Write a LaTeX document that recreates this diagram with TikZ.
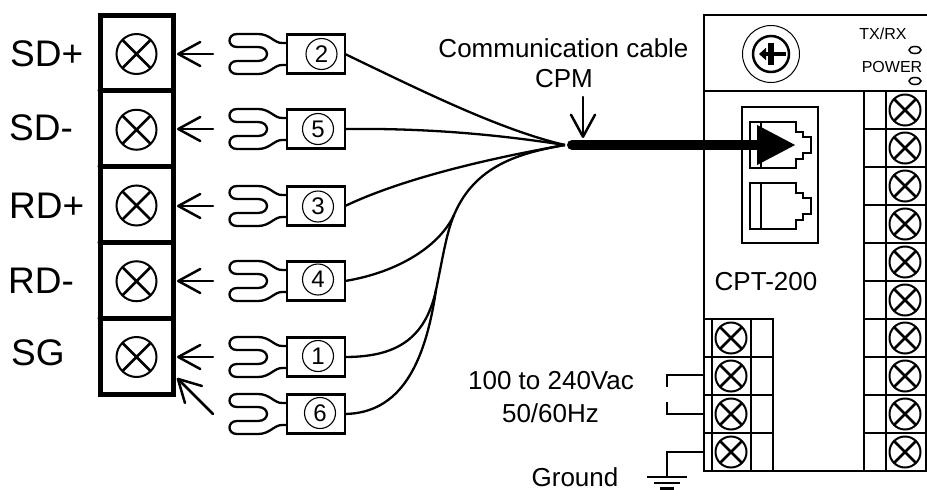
\documentclass[tikz,border=0pt]{standalone}
\usepackage{fontspec}
\setmainfont{Liberation Sans}
\usetikzlibrary{arrows.meta,shapes.geometric}
\tikzset{
  wire/.style={line width=2.3pt},
  thickframe/.style={line width=5pt,line cap=round},
  devline/.style={line width=2.5pt},
  pointer/.style={line width=2.5pt,line cap=round,-{Straight Barb[length=22pt,width=24pt,line width=2.5pt,round]}},
  bigtext/.style={font=\fontsize{37}{40}\selectfont,anchor=west,inner sep=0pt},
  midtext/.style={font=\fontsize{26}{30}\selectfont,inner sep=0pt},
  smalltext/.style={font=\fontsize{16}{18}\selectfont,inner sep=0pt},
  lugbox/.style={draw,line width=2.3pt,minimum width=58pt,minimum height=39pt,inner sep=0pt,outer sep=0pt},
  lugnumber/.style={circle,draw,line width=1.1pt,minimum size=31pt,inner sep=0pt,font=\fontsize{24}{26}\selectfont},
  screwmark/.style={circle,draw,line width=2pt,inner sep=0pt,outer sep=0pt,minimum size=#1,
    path picture={\draw[line width=2.5pt]
      (path picture bounding box.north west) -- (path picture bounding box.south east)
      (path picture bounding box.north east) -- (path picture bounding box.south west);}},
  screwmark/.default=31pt,
  ledmark/.style={ellipse,draw,line width=1.5pt,minimum width=12pt,minimum height=7pt,inner sep=0pt}
}
\newcommand{\forklug}[1]{
  \draw[wire,shift={(#1.west)}] (0,-11) -- (-5,-11) .. controls (-13,-11) and (-17,-20) .. (-29,-20) -- (-50,-20)
    .. controls (-60,-20) and (-60,-7) .. (-50,-7) -- (-29,-7)
    .. controls (-17,-7) and (-17,7) .. (-29,7) -- (-50,7)
    .. controls (-60,7) and (-60,20) .. (-50,20) -- (-29,20)
    .. controls (-17,20) and (-13,11) .. (-5,11) -- (0,11);
}
\newcommand{\jackport}[1]{
  \draw[line width=1.5pt,yshift=#1] (750,122) rectangle (761,168)
    (761,122) -- (796,122) -- (796,132) -- (803,132) -- (803,137) -- (811,137) -- (811,153)
    -- (803,153) -- (803,159) -- (796,159) -- (796,168) -- (761,168);
}
\begin{document}
\begin{tikzpicture}[x=1pt,y=-1pt]
  \useasboundingbox (0,0) rectangle (927,490);

  \draw[thickframe] (100,15) rectangle (173,394);
  \draw[thickframe] (100,90.5) -- (173,90.5) (100,166) -- (173,166) (100,242) -- (173,242) (100,318) -- (173,318);
  \matrix (blockscrews) at (136.5,205.5) [row sep=33.75pt]
  {
    \node[screwmark=40pt] (sdplus) {}; \\
    \node[screwmark=40pt] (sdminus) {}; \\
    \node[screwmark=40pt] (rdplus) {}; \\
    \node[screwmark=40pt] (rdminus) {}; \\
    \node[screwmark=40pt] (sgnd) {}; \\
  };

  \node[bigtext] (sdplustext) at (10,54) {SD+};
  \node[bigtext] (sdminustext) at (9,128) {SD-};
  \node[bigtext] (rdplustext) at (9,206) {RD+};
  \node[bigtext] (rdminustext) at (8,281) {RD-};
  \node[bigtext] (sgtext) at (11,353) {SG};

  \node[lugbox] (lug2) at (316,54) {};
  \node[lugbox] (lug5) at (316,129) {};
  \node[lugbox] (lug3) at (316,206) {};
  \node[lugbox] (lug4) at (316,281) {};
  \node[lugbox] (lug1) at (316,357) {};
  \node[lugbox] (lug6) at (316,414) {};
  \node[lugnumber] (num2) at (321.5,54) {2};
  \node[lugnumber] (num5) at (318,129) {5};
  \node[lugnumber] (num3) at (318,206.5) {3};
  \node[lugnumber] (num4) at (318,279.5) {4};
  \node[lugnumber] (num1) at (318,356) {1};
  \node[lugnumber] (num6) at (320,413) {6};
  \forklug{lug2}
  \forklug{lug5}
  \forklug{lug3}
  \forklug{lug4}
  \forklug{lug1}
  \forklug{lug6}

  \coordinate (tail2) at (213,54);
  \coordinate (tip2) at (177,54);
  \coordinate (tail5) at (213,129);
  \coordinate (tip5) at (177,129);
  \coordinate (tail3) at (213,206);
  \coordinate (tip3) at (177,206);
  \coordinate (tail4) at (213,281);
  \coordinate (tip4) at (177,281);
  \coordinate (tail1) at (213,357);
  \coordinate (tip1) at (177,357);
  \coordinate (tail6) at (213,414);
  \coordinate (tip6) at (177,378);
  \draw[pointer] (tail2) -- (tip2);
  \draw[pointer] (tail5) -- (tip5);
  \draw[pointer] (tail3) -- (tip3);
  \draw[pointer] (tail4) -- (tip4);
  \draw[pointer] (tail1) -- (tip1);
  \draw[pointer] (tail6) -- (tip6);

  \coordinate (hub) at (565,145);
  \coordinate (mergeA) at (454,215);
  \coordinate (mergeB) at (436,290);
  \draw[wire] (lug2.east) .. controls (420,90) and (500,130) .. (hub);
  \draw[wire] (lug5.east) .. controls (430,128) and (500,135) .. (hub);
  \draw[wire] (lug3.east) .. controls (400,180) and (480,160) .. (hub);
  \draw[wire] (lug4.east) .. controls (400,272) and (440,245) .. (mergeA);
  \draw[wire] (mergeA) .. controls (475,165) and (520,153) .. (hub);
  \draw[wire] (lug1.east) .. controls (395,357) and (425,340) .. (mergeB);
  \draw[wire] (lug6.east) .. controls (400,413) and (425,365) .. (mergeB);
  \draw[wire] (mergeB) .. controls (442,262) and (446,234) .. (mergeA);

  \draw[devline] (927,15) -- (704,15) -- (704,471) -- (927,471);
  \draw[devline] (704,91) -- (927,91);
  \draw[devline] (864,91) -- (864,471) (886,91) -- (886,471) (926,91) -- (926,471);
  \draw[devline] (864,129) -- (926,129) (864,167) -- (926,167) (864,205) -- (926,205) (864,243) -- (926,243)
    (864,281) -- (926,281) (864,319) -- (926,319) (864,357) -- (926,357) (864,395) -- (926,395) (864,433) -- (926,433);
  \draw[devline] (704,319) -- (773,319) -- (773,471) (712,319) -- (712,471) (751,319) -- (751,471);
  \draw[devline] (704,357) -- (773,357) (704,395) -- (773,395) (704,433) -- (773,433);
  \matrix (rightscrews) at (905,281) [row sep=5pt]
  {
    \node[screwmark] (rs1) {}; \\
    \node[screwmark] (rs2) {}; \\
    \node[screwmark] (rs3) {}; \\
    \node[screwmark] (rs4) {}; \\
    \node[screwmark] (rs5) {}; \\
    \node[screwmark] (rs6) {}; \\
    \node[screwmark] (rs7) {}; \\
    \node[screwmark] (rs8) {}; \\
    \node[screwmark] (rs9) {}; \\
    \node[screwmark] (rs10) {}; \\
  };
  \matrix (powerscrews) at (731,395) [row sep=5pt]
  {
    \node[screwmark] (ps1) {}; \\
    \node[screwmark] (ps2) {}; \\
    \node[screwmark] (ps3) {}; \\
    \node[screwmark] (ps4) {}; \\
  };

  \node[circle,draw,line width=1pt,minimum size=57pt,inner sep=0pt] (capouter) at (771,54) {};
  \node[circle,draw,line width=2.5pt,minimum size=36pt,inner sep=0pt] (capinner) at (771,54) {};
  \draw[line width=6pt] (771,43) -- (771,65);
  \draw[line width=4.5pt,-{Triangle[length=7pt,width=12pt]}] (786,54) -- (759,54);

  \node[smalltext] (txrxtext) at (883,34) {TX/RX};
  \node[ledmark] (txled) at (915,50) {};
  \node[smalltext] (powertext) at (892,67) {POWER};
  \node[ledmark] (powerled) at (915,81) {};

  \draw[line width=2.5pt] (742,107) rectangle (818,243);
  \jackport{0pt}
  \jackport{-61pt}
  \node[midtext] (modeltext) at (766,282) {CPT-200};

  \coordinate (cablestart) at (572,145);
  \coordinate (portin) at (796,145);
  \draw[line width=10pt,line cap=round,-{Triangle[length=39pt,width=37pt]}] (cablestart) -- (portin);

  \node[midtext] (cabletext) at (563.5,48) {Communication cable};
  \node[midtext] (cpmtext) at (564,79) {CPM};
  \coordinate (cpmtail) at (583,97);
  \coordinate (cpmtip) at (583,138);
  \draw[pointer] (cpmtail) -- (cpmtip);

  \node[midtext] (voltext) at (551,381) {100 to 240Vac};
  \node[midtext] (freqtext) at (550.5,413) {50/60Hz};
  \node[midtext] (groundtext) at (575,477) {Ground};

  \coordinate (acA) at (704,375);
  \coordinate (acAend) at (667,387);
  \coordinate (acB) at (704,414);
  \coordinate (acBend) at (667,402);
  \coordinate (gndA) at (704,452);
  \coordinate (gndtop) at (667,477);
  \draw[devline] (acA) -| (acAend);
  \draw[devline] (acB) -| (acBend);
  \draw[devline] (gndA) -| (gndtop);
  \draw[devline] (647,477) -- (687,477) (654,483) -- (680,483) (660,488.5) -- (674,488.5);
\end{tikzpicture}
\end{document}
